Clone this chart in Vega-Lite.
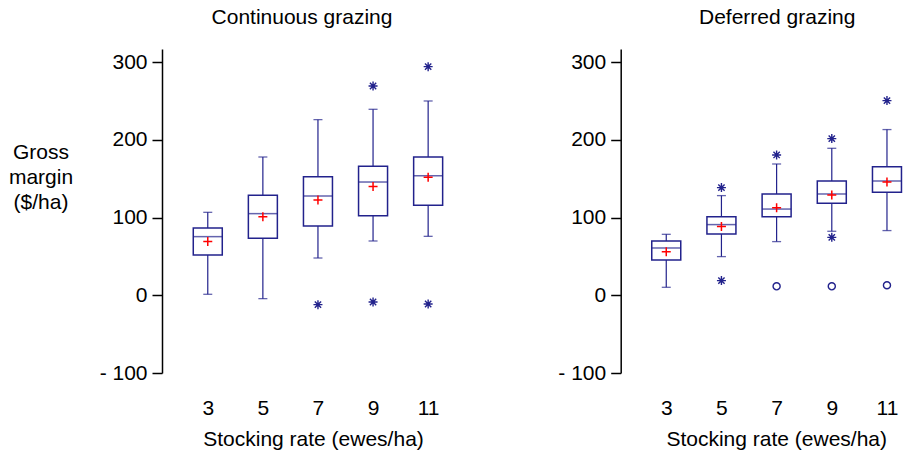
{
  "$schema": "https://vega.github.io/schema/vega-lite/v6.json",
  "background": "white",
  "padding": {"left": 8, "top": 7, "right": 0, "bottom": 0},
  "config": {
    "font": "Liberation Sans",
    "view": {"stroke": null},
    "axis": {"grid": false, "labelFontSize": 21, "titleFontSize": 21, "titleFontWeight": "normal", "labelColor": "black", "titleColor": "black", "domainColor": "black", "tickColor": "black"},
    "axisY": {"tickSize": 10, "labelPadding": 5, "domainWidth": 1.5, "tickWidth": 1.5, "titleAngle": 0, "titleAlign": "center", "titleBaseline": "top", "titleX": -121.5, "titleY": 92, "titleLineHeight": 25, "labelExpr": "datum.value < 0 ? '- ' + format(-datum.value, 'd') : datum.label"},
    "axisX": {"domain": false, "ticks": false, "tickSize": 0, "labelPadding": 24.5, "titlePadding": 10},
    "title": {"fontSize": 21, "fontWeight": "normal", "anchor": "middle", "offset": 21, "baseline": "alphabetic", "frame": "group", "color": "black"}
  },
  "datasets": {
    "boxes": [
      {"panel": "C", "rate": 3, "lo": 1.3, "q1": 51.9, "med": 75.5, "q3": 86.6, "hi": 106.8, "mean": 69.1},
      {"panel": "C", "rate": 5, "lo": -4.3, "q1": 73.4, "med": 105.1, "q3": 128.7, "hi": 178, "mean": 101.2},
      {"panel": "C", "rate": 7, "lo": 48, "q1": 89.2, "med": 127.8, "q3": 152.7, "hi": 226.1, "mean": 122.7},
      {"panel": "C", "rate": 9, "lo": 69.9, "q1": 102.5, "med": 145.8, "q3": 166, "hi": 239.4, "mean": 139.9},
      {"panel": "C", "rate": 11, "lo": 75.9, "q1": 115.8, "med": 154, "q3": 178, "hi": 250.1, "mean": 151.9},
      {"panel": "D", "rate": 3, "lo": 10.3, "q1": 45.4, "med": 60.9, "q3": 69.9, "hi": 78.5, "mean": 56.2},
      {"panel": "D", "rate": 5, "lo": 49.8, "q1": 78.9, "med": 91, "q3": 101.2, "hi": 128.3, "mean": 88.4},
      {"panel": "D", "rate": 7, "lo": 69.1, "q1": 101.2, "med": 111, "q3": 130.4, "hi": 169, "mean": 112.8},
      {"panel": "D", "rate": 9, "lo": 82.4, "q1": 118.4, "med": 130.4, "q3": 147.1, "hi": 189.2, "mean": 129.1},
      {"panel": "D", "rate": 11, "lo": 83.3, "q1": 132.6, "med": 147.1, "q3": 165.6, "hi": 213.3, "mean": 145.8}
    ],
    "outliers": [
      {"panel": "C", "rate": 7, "value": -12, "kind": "far"},
      {"panel": "C", "rate": 9, "value": 269.4, "kind": "far"},
      {"panel": "C", "rate": 9, "value": -8.6, "kind": "far"},
      {"panel": "C", "rate": 11, "value": 294.3, "kind": "far"},
      {"panel": "C", "rate": 11, "value": -11.2, "kind": "far"},
      {"panel": "D", "rate": 5, "value": 138.6, "kind": "far"},
      {"panel": "D", "rate": 5, "value": 18.9, "kind": "far"},
      {"panel": "D", "rate": 7, "value": 180.6, "kind": "far"},
      {"panel": "D", "rate": 7, "value": 11.6, "kind": "extreme"},
      {"panel": "D", "rate": 9, "value": 201.7, "kind": "far"},
      {"panel": "D", "rate": 9, "value": 74.6, "kind": "far"},
      {"panel": "D", "rate": 9, "value": 11.6, "kind": "extreme"},
      {"panel": "D", "rate": 11, "value": 250.6, "kind": "far"},
      {"panel": "D", "rate": 11, "value": 12.9, "kind": "extreme"}
    ]
  },
  "bounds": "flush",
  "spacing": 156.7,
  "hconcat": [
    {
      "title": {"text": "Continuous grazing", "dx": -11},
      "width": 302,
      "height": 324,
      "encoding": {
        "x": {"field": "rate", "type": "quantitative", "scale": {"domain": [1.52, 12.12], "nice": false, "zero": false}, "axis": {"values": [3, 5, 7, 9, 11]}, "title": "Stocking rate (ewes/ha)"}
      },
      "layer": [
        {"data": {"name": "boxes"}, "transform": [{"filter": "datum.panel == 'C'"}],
         "mark": {"type": "rule", "color": "#22228c", "strokeWidth": 1.2},
         "encoding": {"y": {"field": "lo", "type": "quantitative", "scale": {"domain": [-100, 317], "nice": false, "zero": false}, "axis": {"values": [-100, 0, 100, 200, 300]}, "title": ["Gross", "margin", "($/ha)"]}, "y2": {"field": "hi"}}},
        {"data": {"name": "boxes"}, "transform": [{"filter": "datum.panel == 'C'"}],
         "mark": {"type": "bar", "size": 29, "fill": "white", "stroke": "#22228c", "strokeWidth": 1.5},
         "encoding": {"y": {"field": "q1", "type": "quantitative", "title": ["Gross", "margin", "($/ha)"]}, "y2": {"field": "q3"}}},
        {"data": {"name": "boxes"}, "transform": [{"filter": "datum.panel == 'C'"}],
         "mark": {"type": "tick", "orient": "horizontal", "size": 29, "thickness": 1.5, "color": "#22228c"},
         "encoding": {"y": {"field": "med", "type": "quantitative", "title": ["Gross", "margin", "($/ha)"]}}},
        {"data": {"name": "boxes"}, "transform": [{"filter": "datum.panel == 'C'"}],
         "mark": {"type": "tick", "orient": "horizontal", "size": 9, "thickness": 1.3, "color": "#22228c"},
         "encoding": {"y": {"field": "lo", "type": "quantitative", "title": ["Gross", "margin", "($/ha)"]}}},
        {"data": {"name": "boxes"}, "transform": [{"filter": "datum.panel == 'C'"}],
         "mark": {"type": "tick", "orient": "horizontal", "size": 9, "thickness": 1.3, "color": "#22228c"},
         "encoding": {"y": {"field": "hi", "type": "quantitative", "title": ["Gross", "margin", "($/ha)"]}}},
        {"data": {"name": "boxes"}, "transform": [{"filter": "datum.panel == 'C'"}],
         "mark": {"type": "point", "shape": "M-1,0L1,0M0,-1L0,1", "size": 81, "filled": false, "color": "red", "strokeWidth": 1.5, "opacity": 1},
         "encoding": {"y": {"field": "mean", "type": "quantitative", "title": ["Gross", "margin", "($/ha)"]}}},
        {"data": {"name": "outliers"}, "transform": [{"filter": "datum.panel == 'C'"}],
         "mark": {"type": "point", "filled": false, "color": "#22228c", "strokeWidth": 1.4, "opacity": 1},
         "encoding": {
           "y": {"field": "value", "type": "quantitative", "title": ["Gross", "margin", "($/ha)"]},
           "shape": {"field": "kind", "type": "nominal", "scale": {"domain": ["far", "extreme"], "range": ["M-1,0L1,0M0,-1L0,1M-0.7,-0.7L0.7,0.7M-0.7,0.7L0.7,-0.7", "circle"]}, "legend": null},
           "size": {"field": "kind", "type": "nominal", "scale": {"domain": ["far", "extreme"], "range": [81, 50]}, "legend": null}
         }}
      ]
    },
    {
      "title": {"text": "Deferred grazing", "dx": 1},
      "width": 311,
      "height": 324,
      "encoding": {
        "x": {"field": "rate", "type": "quantitative", "scale": {"domain": [1.53, 12.44], "nice": false, "zero": false}, "axis": {"values": [3, 5, 7, 9, 11]}, "title": "Stocking rate (ewes/ha)"}
      },
      "layer": [
        {"data": {"name": "boxes"}, "transform": [{"filter": "datum.panel == 'D'"}],
         "mark": {"type": "rule", "color": "#22228c", "strokeWidth": 1.2},
         "encoding": {"y": {"field": "lo", "type": "quantitative", "scale": {"domain": [-100, 317], "nice": false, "zero": false}, "axis": {"values": [-100, 0, 100, 200, 300]}, "title": null}, "y2": {"field": "hi"}}},
        {"data": {"name": "boxes"}, "transform": [{"filter": "datum.panel == 'D'"}],
         "mark": {"type": "bar", "size": 29, "fill": "white", "stroke": "#22228c", "strokeWidth": 1.5},
         "encoding": {"y": {"field": "q1", "type": "quantitative", "title": null}, "y2": {"field": "q3"}}},
        {"data": {"name": "boxes"}, "transform": [{"filter": "datum.panel == 'D'"}],
         "mark": {"type": "tick", "orient": "horizontal", "size": 29, "thickness": 1.5, "color": "#22228c"},
         "encoding": {"y": {"field": "med", "type": "quantitative", "title": null}}},
        {"data": {"name": "boxes"}, "transform": [{"filter": "datum.panel == 'D'"}],
         "mark": {"type": "tick", "orient": "horizontal", "size": 9, "thickness": 1.3, "color": "#22228c"},
         "encoding": {"y": {"field": "lo", "type": "quantitative", "title": null}}},
        {"data": {"name": "boxes"}, "transform": [{"filter": "datum.panel == 'D'"}],
         "mark": {"type": "tick", "orient": "horizontal", "size": 9, "thickness": 1.3, "color": "#22228c"},
         "encoding": {"y": {"field": "hi", "type": "quantitative", "title": null}}},
        {"data": {"name": "boxes"}, "transform": [{"filter": "datum.panel == 'D'"}],
         "mark": {"type": "point", "shape": "M-1,0L1,0M0,-1L0,1", "size": 81, "filled": false, "color": "red", "strokeWidth": 1.5, "opacity": 1},
         "encoding": {"y": {"field": "mean", "type": "quantitative", "title": null}}},
        {"data": {"name": "outliers"}, "transform": [{"filter": "datum.panel == 'D'"}],
         "mark": {"type": "point", "filled": false, "color": "#22228c", "strokeWidth": 1.4, "opacity": 1},
         "encoding": {
           "y": {"field": "value", "type": "quantitative", "title": null},
           "shape": {"field": "kind", "type": "nominal", "scale": {"domain": ["far", "extreme"], "range": ["M-1,0L1,0M0,-1L0,1M-0.7,-0.7L0.7,0.7M-0.7,0.7L0.7,-0.7", "circle"]}, "legend": null},
           "size": {"field": "kind", "type": "nominal", "scale": {"domain": ["far", "extreme"], "range": [81, 50]}, "legend": null}
         }}
      ]
    }
  ]
}
